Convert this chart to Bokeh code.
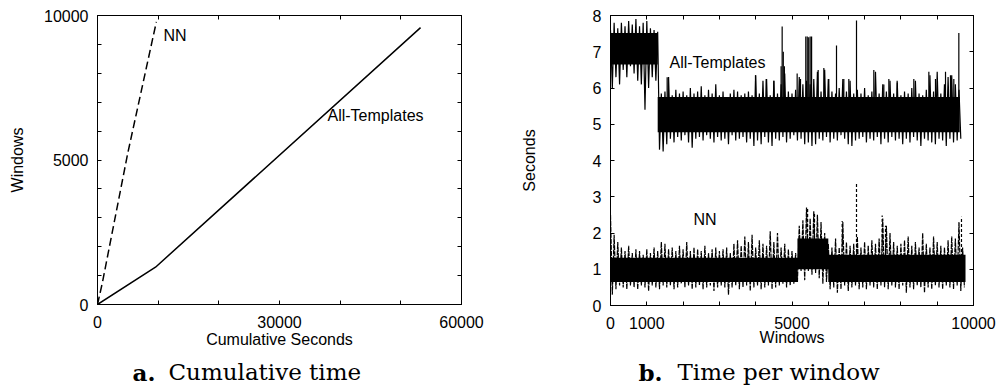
from bokeh.plotting import figure
from bokeh.layouts import row, column
from bokeh.models import FixedTicker, LinearAxis, Label, Range1d
from bokeh.embed import file_html
from bokeh.resources import INLINE

# ---------------- data: panel a (cumulative time) ----------------
cum_at_seconds = [0, 9560, 53250]
cum_at_windows = [0, 1290, 9580]
cum_nn_seconds = [0, 800, 5000, 9700]
cum_nn_windows = [0, 750, 5250, 9780]

# ---------------- data: panel b (time per window) ----------------
grid_windows = [0, 100, 200, 300, 400, 500, 600, 700, 800, 900,
                1000, 1100, 1200, 1300, 1400, 1500, 1600, 1700, 1800, 1900,
                2000, 2100, 2200, 2300, 2400, 2500, 2600, 2700, 2800, 2900,
                3000, 3100, 3200, 3300, 3400, 3500, 3600, 3700, 3800, 3900,
                4000, 4100, 4200, 4300, 4400, 4500, 4600, 4700, 4800, 4900,
                5000, 5100, 5200, 5300, 5400, 5500, 5600, 5700, 5800, 5900,
                6000, 6100, 6200, 6300, 6400, 6500, 6600, 6700, 6800, 6900,
                7000, 7100, 7200, 7300, 7400, 7500, 7600, 7700, 7800, 7900,
                8000, 8100, 8200, 8300, 8400, 8500, 8600, 8700, 8800, 8900,
                9000, 9100, 9200, 9300, 9400, 9500, 9600, 9700]

# All-Templates: max / min in each 100-window bin (0 .. 9600)
at_hi = [7.6, 7.8, 7.65, 7.8, 7.7, 7.85, 7.75, 7.9, 7.7, 7.8, 7.85, 7.65, 7.6, 7.55,
         5.85, 5.9, 6.3, 5.8, 5.95, 5.85, 5.9, 5.8, 6.0, 5.85,
         5.9, 6.05, 5.8, 5.95, 5.85, 6.1, 5.8, 5.9, 5.75, 5.85,
         5.95, 5.9, 5.8, 5.85, 5.9, 5.8, 6.35, 5.85, 6.2, 6.25,
         5.8, 6.2, 5.85, 6.1, 6.4, 5.9, 5.85, 5.95, 6.3, 6.1,
         6.2, 6.1, 6.25, 6.45, 5.9, 6.5, 6.25, 5.9, 5.85, 6.0,
         6.25, 5.9, 6.2, 5.85, 5.95, 5.85, 6.0, 5.8, 5.9, 6.45,
         5.85, 6.1, 5.9, 6.2, 5.85, 6.15, 5.8, 5.9, 5.85, 6.0,
         6.2, 5.85, 5.8, 5.95, 6.35, 5.9, 6.45, 5.85, 6.1, 6.3,
         6.35, 6.1, 5.95]
at_lo = [6.0, 6.3, 6.1, 6.5, 6.3, 6.6, 6.4, 6.2, 6.1, 5.4, 6.0, 6.3, 6.2, 4.3,
         4.25, 4.45, 4.6, 4.5, 4.65, 4.55, 4.7, 4.5, 4.35, 4.6,
         4.65, 4.55, 4.7, 4.6, 4.5, 4.65, 4.55, 4.6, 4.45, 4.7,
         4.55, 4.6, 4.65, 4.5, 4.6, 4.4, 4.55, 4.45, 4.65, 4.5,
         4.4, 4.6, 4.55, 4.65, 4.5, 4.6, 4.7, 4.55, 4.6, 4.45,
         4.5, 4.4, 4.45, 4.6, 4.55, 4.65, 4.5, 4.6, 4.55, 4.7,
         4.6, 4.45, 4.4, 4.55, 4.6, 4.65, 4.5, 4.6, 4.55, 4.65,
         4.45, 4.6, 4.5, 4.65, 4.55, 4.6, 4.45, 4.6, 4.5, 4.65,
         4.55, 4.4, 4.6, 4.55, 4.5, 4.45, 4.6, 4.55, 4.4, 4.6,
         4.5, 4.55, 4.6]
at_core_x = [0, 1300, 1300, 9620]
at_core_lo = [6.65, 6.65, 4.78, 4.78]
at_core_hi = [7.52, 7.52, 5.75, 5.75]
at_spike_x = [1561, 3994, 4289, 4500, 4700, 4729, 4760, 4790, 5142, 5234,
              5380, 5420, 5460, 5500, 5540, 5721, 5877, 6014, 6226, 6428,
              6565, 6777, 7254, 7530, 7668, 7897, 8356, 8770, 8953, 9229,
              9366, 9458, 9596]
at_spike_top = [6.3, 6.35, 6.25, 6.2, 6.6, 7.7, 7.0, 6.6, 6.4, 6.25,
                7.42, 7.42, 7.4, 7.42, 7.42, 6.5, 6.55, 6.25, 7.17, 6.25,
                6.25, 7.86, 6.5, 6.1, 6.25, 6.2, 6.25, 6.45, 6.25, 6.45,
                6.35, 6.25, 7.52]

# NN: max / min in each 100-window bin (0 .. 9700)
nn_hi = [2.5, 1.95, 1.75, 1.6, 1.5, 1.65, 1.45, 1.55, 1.5, 1.4,
         1.55, 1.45, 1.6, 1.5, 1.75, 1.7, 1.55, 1.6, 1.5, 1.65,
         1.55, 1.75, 1.5, 1.6, 1.55, 1.5, 1.65, 1.45, 1.55, 1.6,
         1.5, 1.55, 1.6, 1.45, 1.7, 1.8, 1.65, 1.9, 1.75, 1.95,
         1.6, 1.8, 1.7, 1.65, 2.05, 1.75, 2.0, 1.6, 1.7, 1.55,
         1.5, 1.45, 2.2, 2.35, 2.7, 2.4, 2.6, 2.5, 2.3, 2.0,
         1.7, 1.6, 1.85, 1.6, 2.3, 1.75, 1.65, 1.7, 1.9, 1.6,
         1.75, 1.65, 1.8, 1.7, 1.85, 2.4, 2.2, 2.0, 1.75, 1.65,
         1.7, 1.8, 1.9, 1.65, 1.75, 1.6, 2.0, 1.7, 1.6, 1.9,
         1.75, 1.65, 1.6, 1.8, 1.9, 1.85, 2.3, 1.6]
nn_lo = [0.3, 0.45, 0.55, 0.5, 0.45, 0.55, 0.5, 0.45, 0.55, 0.5,
         0.4, 0.55, 0.5, 0.45, 0.55, 0.5, 0.55, 0.45, 0.5, 0.6,
         0.5, 0.55, 0.45, 0.5, 0.55, 0.45, 0.5, 0.55, 0.4, 0.5,
         0.55, 0.5, 0.3, 0.5, 0.55, 0.45, 0.5, 0.55, 0.4, 0.5,
         0.55, 0.45, 0.5, 0.55, 0.45, 0.5, 0.55, 0.6, 0.5, 0.55,
         0.6, 0.65, 0.95, 0.7, 0.95, 0.85, 0.9, 0.75, 0.6, 0.65,
         0.45, 0.5, 0.35, 0.45, 0.55, 0.4, 0.5, 0.55, 0.45, 0.5,
         0.45, 0.55, 0.5, 0.45, 0.55, 0.5, 0.45, 0.55, 0.5, 0.45,
         0.55, 0.35, 0.5, 0.45, 0.55, 0.5, 0.35, 0.5, 0.45, 0.55,
         0.5, 0.45, 0.55, 0.5, 0.45, 0.55, 0.4, 0.5]
nn_core_x = [0, 5150, 5150, 6000, 6000, 9780]
nn_core_lo = [0.65, 0.65, 1.0, 1.0, 0.65, 0.65]
nn_core_hi = [1.32, 1.32, 1.85, 1.85, 1.4, 1.4]
nn_spike_x = [5430, 5620, 6382, 6777, 7484, 7576, 9669]
nn_spike_top = [2.72, 2.55, 2.33, 3.40, 2.48, 2.2, 2.45]

# ticks
a_xticks = [0, 10000, 20000, 30000, 40000, 50000, 60000]
a_xlabels = {0: "0", 30000: "30000", 60000: "60000"}
a_yticks = [0, 1000, 2000, 3000, 4000, 5000, 6000, 7000, 8000, 9000, 10000]
a_ylabels = {0: "0", 5000: "5000", 10000: "10000"}
b_xticks = [0, 1000, 2000, 3000, 4000, 5000, 6000, 7000, 8000, 9000, 10000]
b_xlabels = {0: "0", 1000: "1000", 5000: "5000", 10000: "10000"}
b_yticks = [0, 1, 2, 3, 4, 5, 6, 7, 8]

SANS = "Liberation Sans"
SERIF = "DejaVu Serif"
FS = "16px"


def style(p, xticks, xlabels, yticks, ylabels, xlabel, ylabel, ylabel_standoff, xlabel_standoff):
    p.outline_line_color = "black"
    p.outline_line_width = 1
    p.xgrid.visible = False
    p.ygrid.visible = False
    for ax, ticks, labels in ((p.xaxis[0], xticks, xlabels), (p.yaxis[0], yticks, ylabels)):
        ax.ticker = FixedTicker(ticks=ticks)
        ov = {}
        for t in ticks:
            ov[t] = labels.get(t, "") if labels is not None else str(t)
        ax.major_label_overrides = ov
        ax.major_tick_in = 4
        ax.major_tick_out = 0
        ax.minor_tick_line_color = None
        ax.axis_line_color = "black"
        ax.major_tick_line_color = "black"
        ax.major_label_text_font = SANS
        ax.major_label_text_font_size = FS
        ax.major_label_text_color = "black"
        ax.axis_label_text_font = SANS
        ax.axis_label_text_font_size = FS
        ax.axis_label_text_font_style = "normal"
        ax.axis_label_text_color = "black"
    p.xaxis[0].axis_label = xlabel
    p.yaxis[0].axis_label = ylabel
    p.xaxis[0].major_label_standoff = 11
    p.xaxis[0].axis_label_standoff = xlabel_standoff
    p.yaxis[0].major_label_standoff = 9
    p.yaxis[0].axis_label_standoff = ylabel_standoff
    # mirrored inward ticks on top and right
    for loc, ticks in (("above", xticks), ("right", yticks)):
        ax = LinearAxis(ticker=FixedTicker(ticks=ticks))
        ax.major_label_overrides = {t: "" for t in ticks}
        ax.major_label_text_font_size = "0px"
        ax.major_label_standoff = 0
        ax.major_tick_in = 4
        ax.major_tick_out = 0
        ax.minor_tick_line_color = None
        ax.axis_line_color = "black"
        p.add_layout(ax, loc)


def zigzag(xs, hi, lo, half_step):
    # trace of the series through each bin's max and then its min
    px, py = [], []
    for x, h, l in zip(xs, hi, lo):
        px += [x, x + half_step]
        py += [h, l]
    return px, py


def tag(p, x, y, text, size=FS, font=SANS, bold=False):
    p.add_layout(Label(x=x, y=y, text=text, text_font=font, text_font_size=size,
                       text_font_style="bold" if bold else "normal",
                       text_color="black", text_baseline="middle", text_align="left"))


# ---------------- panel a ----------------
pa = figure(x_range=Range1d(0, 60000), y_range=Range1d(0, 10000),
            frame_width=364, frame_height=289,
            min_border_left=97, min_border_right=39, min_border_top=15, min_border_bottom=50,
            title=None, output_backend="svg", toolbar_location=None)
style(pa, a_xticks, a_xlabels, a_yticks, a_ylabels, "Cumulative Seconds", "Windows", 15, 0)
pa.line(cum_at_seconds, cum_at_windows, line_color="black", line_width=1.5)
pa.line(cum_nn_seconds, cum_nn_windows, line_color="black", line_width=1.5, line_dash="8 4")
tag(pa, 10879, 9318, "NN")
tag(pa, 37912, 6540, "All-Templates")

# ---------------- panel b ----------------
pb = figure(x_range=Range1d(0, 10000), y_range=Range1d(0, 8),
            frame_width=363, frame_height=290,
            min_border_left=110, min_border_right=25, min_border_top=15, min_border_bottom=49,
            title=None, output_backend="svg", toolbar_location=None)
style(pb, b_xticks, b_xlabels, b_yticks, None, "Windows", "Seconds", 52, -3)

n_at = len(at_hi)
at_px, at_py = zigzag(grid_windows[:n_at], at_hi, at_lo, 50)
pb.varea(x=at_core_x, y1=at_core_lo, y2=at_core_hi, fill_color="black")
pb.line(at_px, at_py, line_color="black", line_width=1.2)
pb.segment(x0=at_spike_x, y0=[5.5] * len(at_spike_x), x1=at_spike_x, y1=at_spike_top,
           line_color="black", line_width=1.2)

nn_px, nn_py = zigzag(grid_windows, nn_hi, nn_lo, 50)
pb.varea(x=nn_core_x, y1=nn_core_lo, y2=nn_core_hi, fill_color="black")
pb.line(nn_px, nn_py, line_color="black", line_width=1.2, line_dash="5 1")
pb.segment(x0=nn_spike_x, y0=[1.2] * len(nn_spike_x), x1=nn_spike_x, y1=nn_spike_top,
           line_color="black", line_width=1.2, line_dash="3 2")

tag(pb, 1625, 6.717, "All-Templates")
tag(pb, 2287, 2.372, "NN")

# ---------------- captions (strip below both panels, pixel-like coords) ----------------
pc = figure(x_range=Range1d(0, 998), y_range=Range1d(34, 0),
            frame_width=998, frame_height=34, min_border=0,
            x_axis_type=None, y_axis_type=None, title=None,
            output_backend="svg", toolbar_location=None)
pc.outline_line_color = None
pc.xgrid.visible = False
pc.ygrid.visible = False
for cx, txt, bold in ((132, "a.", True), (168, "Cumulative time", False),
                      (638, "b.", True), (677, "Time per window", False)):
    tag(pc, cx, 17.5, txt, size="23px", font=SERIF, bold=bold)

layout = column(row(pa, pb), pc)
open("out.html", "w").write(file_html(layout, INLINE))
